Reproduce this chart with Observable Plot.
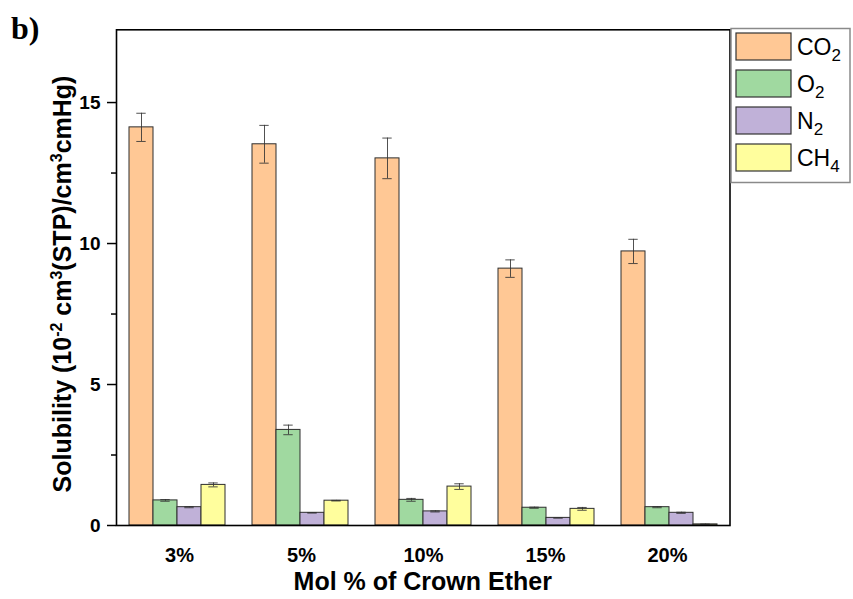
<!DOCTYPE html>
<html><head><meta charset="utf-8">
<script src="https://cdn.jsdelivr.net/npm/d3@7"></script>
<script src="https://cdn.jsdelivr.net/npm/@observablehq/plot@0.6"></script>
<style>
body{margin:0;background:#fff}
#chart{position:relative;width:853px;height:599px}
#chart svg{position:absolute;left:0;top:0}
</style>
</head><body><div id="chart"></div>
<script>
const groups = ["3%", "5%", "10%", "15%", "20%"];
const gases = ["CO2", "O2", "N2", "CH4"];
const co2 = [14.12, 13.52, 13.02, 9.11, 9.72];
const co2Err = [0.50, 0.67, 0.72, 0.31, 0.43];
const o2 = [0.89, 3.39, 0.91, 0.63, 0.65];
const o2Err = [0.03, 0.17, 0.05, 0.02, 0.02];
const n2 = [0.65, 0.45, 0.50, 0.27, 0.45];
const n2Err = [0.02, 0.01, 0.02, 0.01, 0.02];
const ch4 = [1.44, 0.88, 1.38, 0.59, 0.04];
const ch4Err = [0.07, 0.01, 0.10, 0.05, 0.01];
const colors = ["#FFC895", "#A0D9A0", "#C0B1D8", "#FFFE9D"];
const yMajor = [0, 5, 10, 15];
const yMinor = [2.5, 7.5, 12.5];
const yMax = 17.58;

const series = [[co2, co2Err], [o2, o2Err], [n2, n2Err], [ch4, ch4Err]];
const rows = [];
groups.forEach((g, i) => gases.forEach((gas, j) => rows.push({group: g, gas, value: series[j][0][i], err: series[j][1][i]})));

const W = 853, H = 599, mL = 116, mR = 853 - 729.5, mT = 29.3, mB = 599 - 525;
const font = "'Liberation Sans', Arial, sans-serif";
const common = {width: W, height: H, marginLeft: mL, marginRight: mR, marginTop: mT, marginBottom: mB,
  style: {fontFamily: font, background: "transparent", overflow: "visible"}};

const bars = Plot.plot({
  ...common,
  fx: {domain: groups, paddingInner: 0.2, paddingOuter: 0.09, axis: null, label: null},
  x: {domain: gases, padding: 0, axis: null},
  y: {domain: [0, yMax], axis: null},
  color: {domain: gases, range: colors},
  marks: [
    Plot.barY(rows, {fx: "group", x: "gas", y: "value", fill: "gas", stroke: "#2e2e2e", strokeWidth: 1}),
    Plot.ruleX(rows, {fx: "group", x: "gas", y1: d => d.value - d.err, y2: d => d.value + d.err, stroke: "#333", strokeOpacity: 0.85}),
    Plot.tickY(rows, {fx: "group", x: "gas", y: d => d.value + d.err, insetLeft: 7.3, insetRight: 7.3, stroke: "#333", strokeOpacity: 0.85}),
    Plot.tickY(rows, {fx: "group", x: "gas", y: d => d.value - d.err, insetLeft: 7.3, insetRight: 7.3, stroke: "#333", strokeOpacity: 0.85})
  ]
});

const axes = Plot.plot({
  ...common,
  x: {domain: groups, paddingInner: 0.2, paddingOuter: 0.09, axis: null},
  y: {domain: [0, yMax], axis: null},
  marks: [
    Plot.frame({stroke: "#000", strokeWidth: 1.6}),
    Plot.axisY({ticks: yMajor, tickSize: 9, tickPadding: 7, fontSize: 19, fontWeight: "bold", label: null, stroke: "#000", strokeWidth: 1.5, fill: "#000"}),
    Plot.axisY({ticks: yMinor, tickSize: 5, text: null, label: null, stroke: "#000", strokeWidth: 1.5}),
    Plot.axisX({anchor: "bottom", tickSize: 0, tickPadding: 22, fontSize: 20, fontWeight: "bold", label: null, fill: "#000"})
  ]
});

const chart = document.getElementById("chart");
chart.append(bars, axes);

const svg = d3.select(axes);
// y-axis title
const yt = svg.append("text")
  .attr("transform", "translate(71,284) rotate(-90)")
  .attr("text-anchor", "middle")
  .attr("font-family", font).attr("font-weight", "bold").attr("font-size", 25).attr("fill", "#000");
const parts = [["Solubility (10", 0], ["-2", 1], [" cm", 0], ["3", 1], ["(STP)/cm", 0], ["3", 1], ["cmHg)", 0]];
let prevSup = 0;
parts.forEach(([t, sup]) => {
  const ts = yt.append("tspan").text(t);
  const dy = sup && !prevSup ? -9 : (!sup && prevSup ? 9 : 0);
  if (dy) ts.attr("dy", dy);
  if (sup) ts.attr("font-size", 16);
  prevSup = sup;
});
// x-axis title
svg.append("text").attr("x", (mL + W - mR) / 2).attr("y", 590).attr("text-anchor", "middle")
  .attr("font-family", font).attr("font-weight", "bold").attr("font-size", 25).attr("fill", "#000")
  .text("Mol % of Crown Ether");
// panel label
svg.append("text").attr("x", 11).attr("y", 39).attr("text-anchor", "start")
  .attr("font-family", "'Liberation Serif', 'Times New Roman', serif").attr("font-weight", "bold").attr("font-size", 32).attr("fill", "#000")
  .text("b)");
// legend
const color = bars.scale("color");
const lg = svg.append("g").attr("text-anchor", "start");
lg.append("rect").attr("x", 731).attr("y", 28.5).attr("width", 119).attr("height", 154)
  .attr("fill", "#fff").attr("stroke", "#8a8a8a").attr("stroke-width", 1.5);
const labels = [["CO", "2"], ["O", "2"], ["N", "2"], ["CH", "4"]];
gases.forEach((g, i) => {
  const y0 = 33 + i * 37;
  lg.append("rect").attr("x", 736).attr("y", y0).attr("width", 55).attr("height", 27)
    .attr("fill", color.apply(g)).attr("stroke", "#333").attr("stroke-width", 1.2);
  const t = lg.append("text").attr("x", 797).attr("y", y0 + 22).attr("text-anchor", "start")
    .attr("font-family", font).attr("font-size", 23).attr("fill", "#000");
  t.append("tspan").text(labels[i][0]);
  t.append("tspan").attr("dy", 6).attr("font-size", 17).text(labels[i][1]);
});
</script>
</body></html>
